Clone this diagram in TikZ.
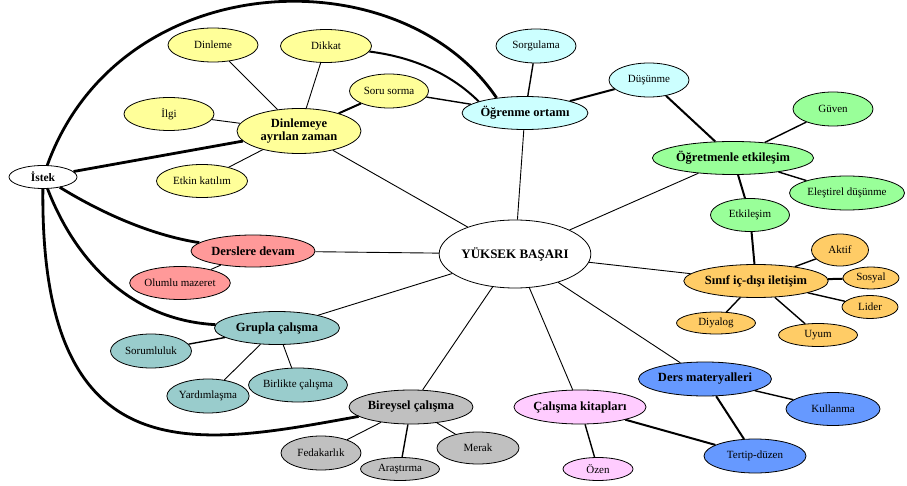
\documentclass[tikz,border=0pt]{standalone}
\usepackage{fontspec}
\setmainfont{Liberation Serif}
\usetikzlibrary{shapes.geometric}
\definecolor{cyel}{HTML}{FFFF99}
\definecolor{ccya}{HTML}{CCFFFF}
\definecolor{cgrn}{HTML}{99FF99}
\definecolor{corg}{HTML}{FFCC66}
\definecolor{cblu}{HTML}{6699FF}
\definecolor{cpnk}{HTML}{FFCCFF}
\definecolor{cteal}{HTML}{99CCCC}
\definecolor{cgry}{HTML}{C0C0C0}
\definecolor{cred}{HTML}{FF9999}
\begin{document}
\begin{tikzpicture}[x=1pt,y=-1pt,
  el/.style 2 args={ellipse, draw=black, line width=0.8pt, minimum width=#1pt,
    minimum height=#2pt, inner sep=0pt, font=\fontsize{11}{12}\selectfont},
  hd/.style={font=\fontsize{12.5}{13.5}\selectfont\bfseries, align=center},
  wa/.style={line width=0.9pt},
  wb/.style={line width=1.4pt},
  wc/.style={line width=2pt},
  wd/.style={line width=2.8pt}]
\useasboundingbox (0,0) rectangle (907,486);

% nodes
\node[el={147}{68}, fill=white, hd, font=\fontsize{13}{14}\selectfont\bfseries] (yb) at (515,254) {YÜKSEK BAŞARI};
\node[el={68}{23}, fill=white, hd, font=\fontsize{11.5}{12}\selectfont\bfseries] (istek) at (43,177) {İstek};

\node[el={124}{45}, fill=cyel, hd] (dinlemeye) at (299,131) {Dinlemeye\\[-1pt]ayrılan zaman};
\node[el={90}{34}, fill=cyel] (dinleme) at (213,45) {Dinleme};
\node[el={91}{33}, fill=cyel] (dikkat) at (326,46) {Dikkat};
\node[el={79}{34}, fill=cyel] (soru) at (389,91) {Soru sorma};
\node[el={90}{33}, fill=cyel] (ilgi) at (169,114) {İlgi};
\node[el={91}{33}, fill=cyel] (etkin) at (202,181) {Etkin katılım};

\node[el={124}{33}, fill=ccya, hd] (ogrenme) at (525,113) {Öğrenme ortamı};
\node[el={80}{34}, fill=ccya] (sorgulama) at (536,46) {Sorgulama};
\node[el={80}{34}, fill=ccya] (dusunme) at (649,80) {Düşünme};

\node[el={136}{33}, fill=cgrn, hd] (ogretmen) at (733,158) {Öğretmenle etkileşim};
\node[el={80}{34}, fill=cgrn] (guven) at (833,109) {Güven};
\node[el={115}{34}, fill=cgrn] (elestirel) at (847,193) {Eleştirel düşünme};
\node[el={79}{33}, fill=cgrn] (etkilesim) at (750,215) {Etkileşim};

\node[el={125}{33}, fill=corg, hd] (sinif) at (756,281) {Sınıf iç-dışı iletişim};
\node[el={57}{32}, fill=corg] (aktif) at (840,250) {Aktif};
\node[el={56}{22}, fill=corg] (sosyal) at (871,278) {Sosyal};
\node[el={56}{23}, fill=corg] (lider) at (870,307) {Lider};
\node[el={79}{23}, fill=corg] (uyum) at (818,335) {Uyum};
\node[el={79}{22}, fill=corg] (diyalog) at (716,323) {Diyalog};

\node[el={124}{34}, fill=cblu, hd] (ders) at (705,379) {Ders materyalleri};
\node[el={94}{33}, fill=cblu] (kullanma) at (833,409) {Kullanma};
\node[el={102}{34}, fill=cblu] (tertip) at (755,456) {Tertip-düzen};

\node[el={125}{34}, fill=cpnk, hd] (kitap) at (580,407) {Çalışma kitapları};
\node[el={70}{23}, fill=cpnk] (ozen) at (598,469) {Özen};

\node[el={124}{34}, fill=cgry, hd] (bireysel) at (411,407) {Bireysel çalışma};
\node[el={80}{34}, fill=cgry] (fedakarlik) at (321,453) {Fedakarlık};
\node[el={79}{23}, fill=cgry] (arastirma) at (400,469) {Araştırma};
\node[el={82}{32}, fill=cgry] (merak) at (478,448) {Merak};

\node[el={125}{33}, fill=cteal, hd] (grupla) at (277,328) {Grupla çalışma};
\node[el={81}{34}, fill=cteal] (sorumluluk) at (151,351) {Sorumluluk};
\node[el={79}{34}, fill=cteal] (yardim) at (208,396) {Yardımlaşma};
\node[el={79}{34}, fill=cteal] (birlikte) at (298,385) {Birlikte çalışma};

\node[el={124}{32}, fill=cred, hd] (derslere) at (253,251) {Derslere devam};
\node[el={91}{33}, fill=cred] (olumlu) at (180,283) {Olumlu mazeret};

% connectors
\draw[wa] (yb) -- (dinlemeye);
\draw[wa] (yb) -- (ogrenme);
\draw[wa] (yb) -- (ogretmen);
\draw[wa] (yb) -- (sinif);
\draw[wa] (yb) -- (ders);
\draw[wa] (yb) -- (kitap);
\draw[wa] (yb) -- (bireysel);
\draw[wa] (yb) -- (grupla);
\draw[wa] (yb) -- (derslere);

\draw[wd] (istek) -- (dinlemeye);
\draw[wd] (istek) .. controls (120,-35) and (400,-45) .. (ogrenme.152);
\draw[wd] (istek) .. controls (100,212) and (150,235) .. (derslere);
\draw[wd] (istek) .. controls (75,260) and (130,320) .. (grupla);
\draw[wd] (istek) .. controls (40,480) and (200,445) .. (bireysel);

\draw[wc] (dikkat) .. controls (420,58) and (455,78) .. (ogrenme.166);
\draw[wc] (dinlemeye) -- (soru);
\draw[wb] (soru) -- (ogrenme);
\draw[wa] (dinlemeye) -- (dinleme);
\draw[wa] (dinlemeye) -- (dikkat);
\draw[wa] (dinlemeye) -- (ilgi);
\draw[wa] (dinlemeye) -- (etkin);

\draw[wb] (ogrenme) -- (sorgulama);
\draw[wc] (ogrenme) -- (dusunme);
\draw[wc] (dusunme) -- (ogretmen);
\draw[wb] (ogretmen) -- (guven);
\draw[wb] (ogretmen) -- (elestirel);
\draw[wc] (ogretmen) -- (etkilesim);
\draw[wc] (etkilesim) -- (sinif);

\draw[wb] (sinif) -- (aktif);
\draw[wc] (sinif) -- (sosyal);
\draw[wb] (sinif) -- (lider);
\draw[wb] (sinif) -- (uyum);
\draw[wb] (sinif) -- (diyalog);

\draw[wb] (ders) -- (kullanma);
\draw[wc] (ders) -- (tertip);
\draw[wc] (kitap) -- (tertip);
\draw[wb] (kitap) -- (ozen);

\draw[wa] (bireysel) -- (fedakarlik);
\draw[wb] (bireysel) -- (arastirma);
\draw[wa] (bireysel) -- (merak);

\draw[wb] (grupla) -- (sorumluluk);
\draw[wa] (grupla) -- (yardim);
\draw[wa] (grupla) -- (birlikte);

\draw[wa] (derslere) -- (olumlu);
\end{tikzpicture}
\end{document}
